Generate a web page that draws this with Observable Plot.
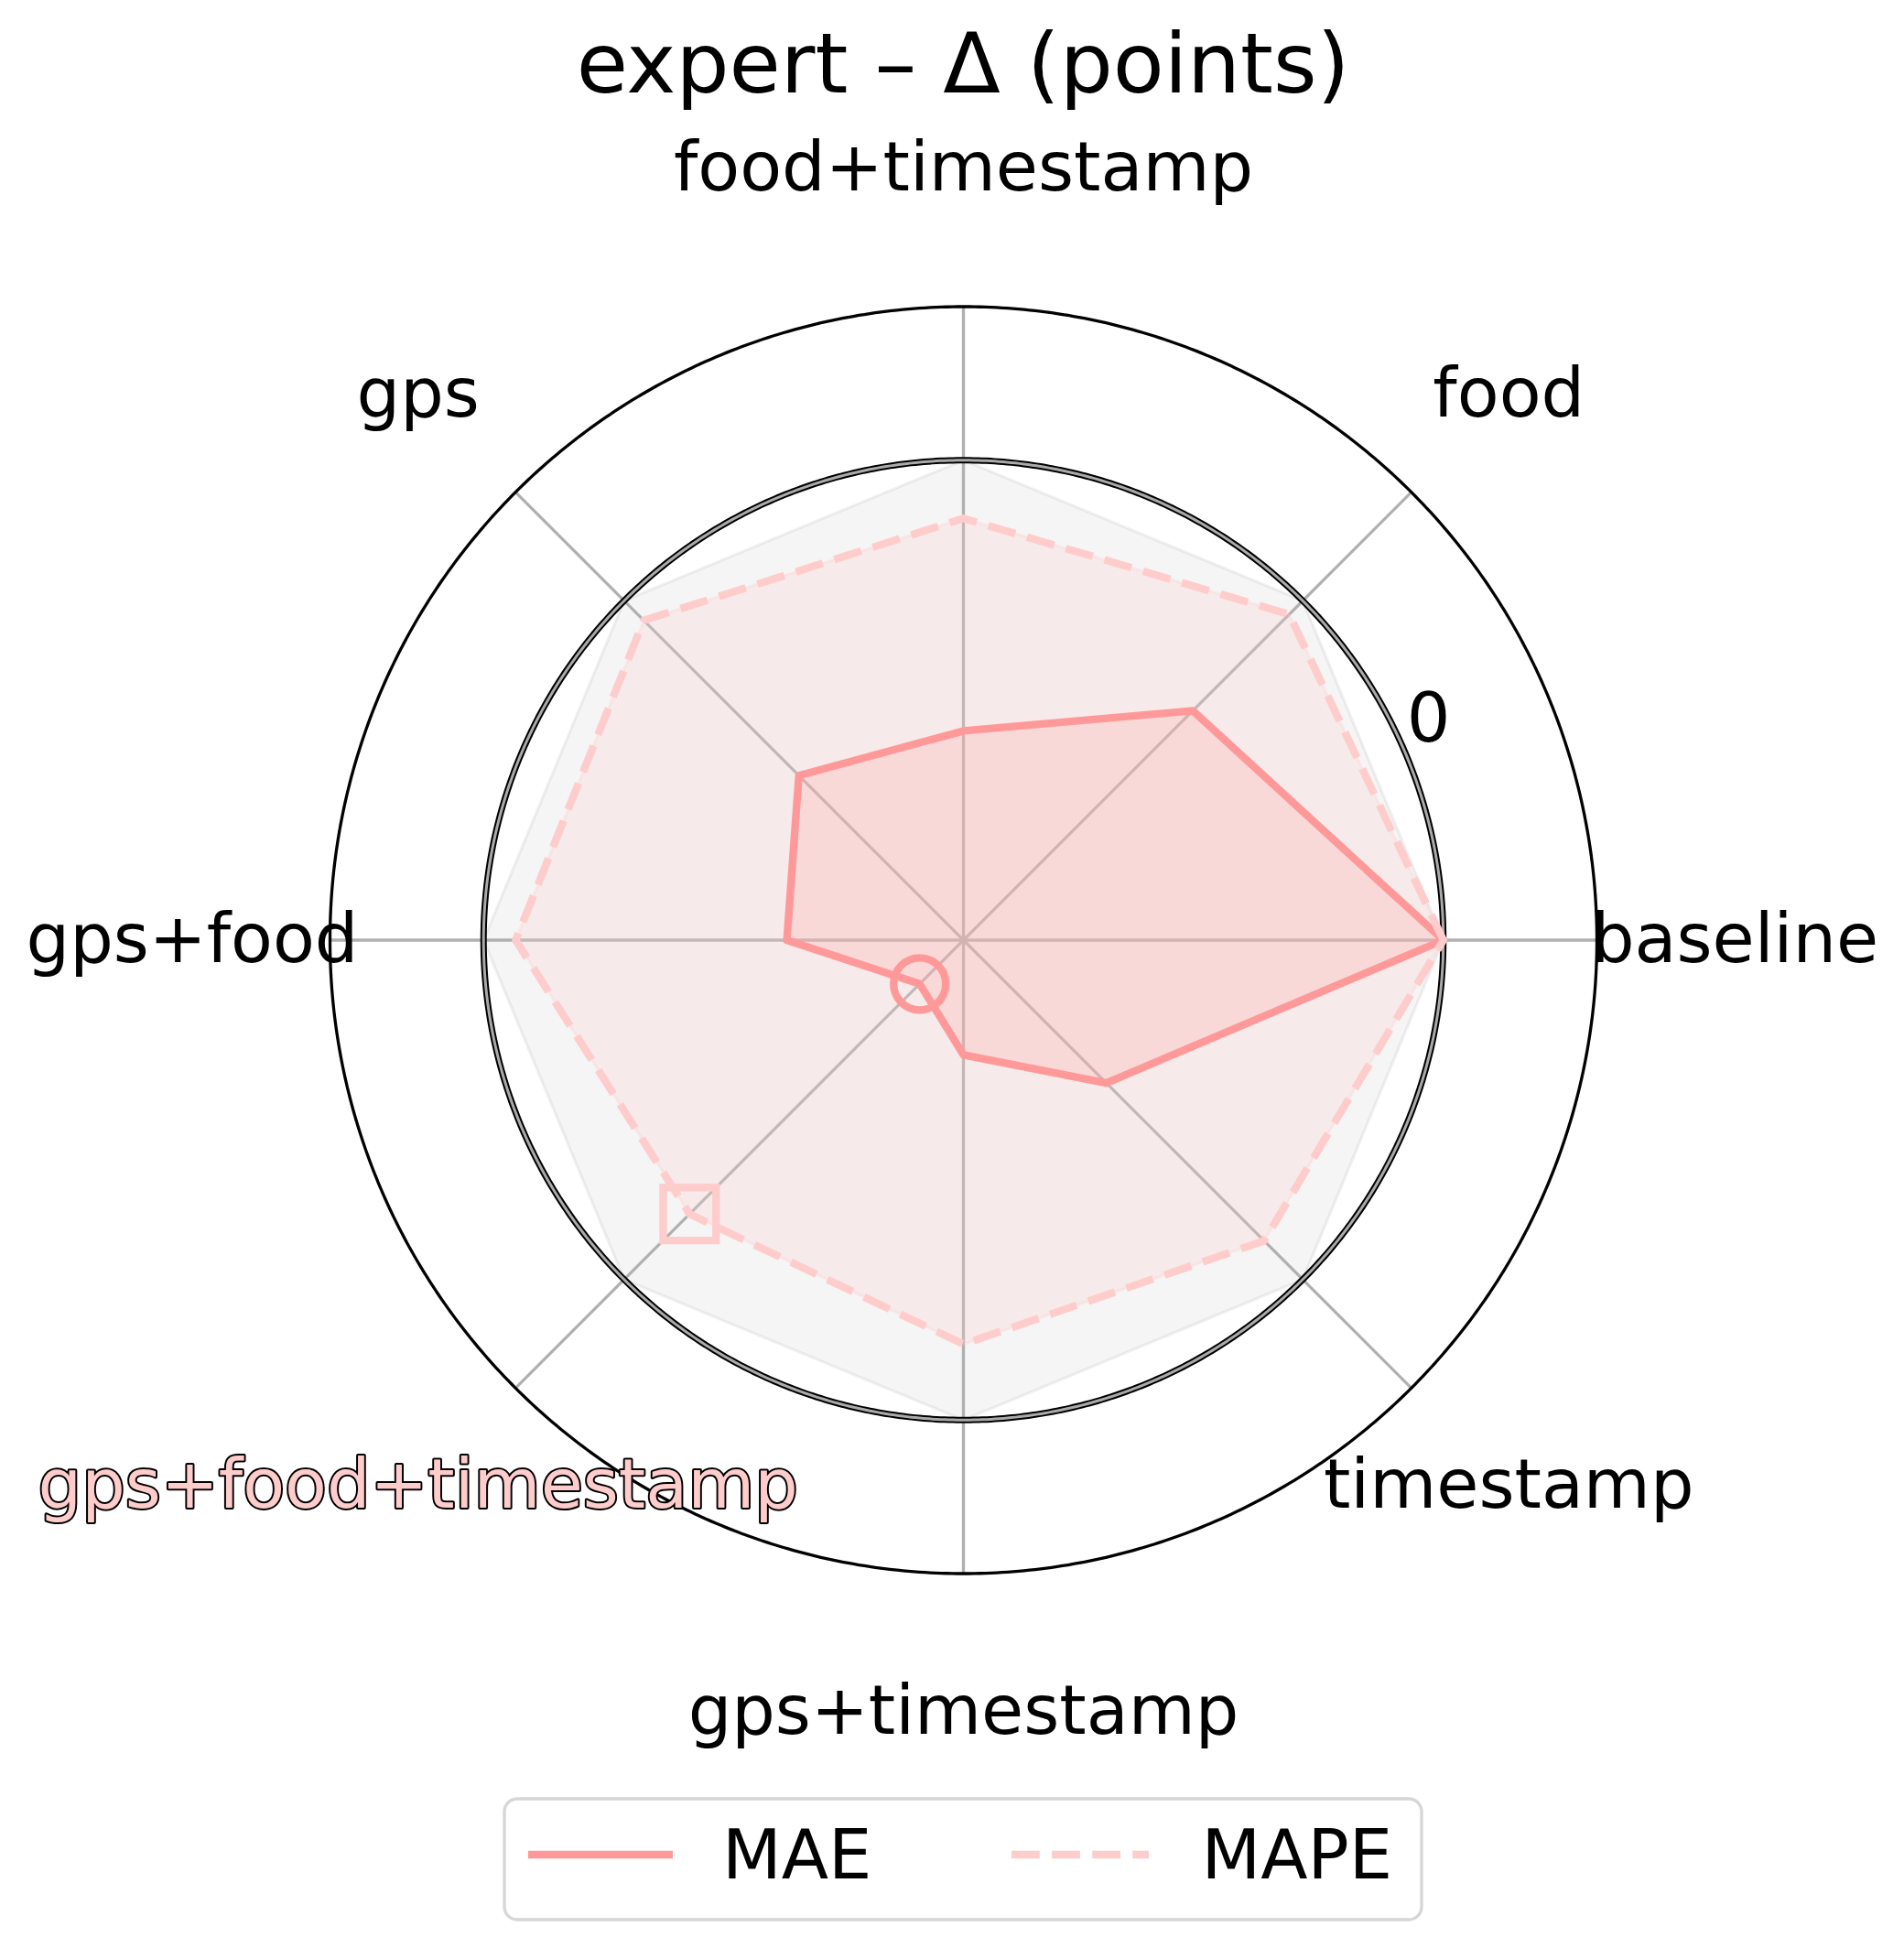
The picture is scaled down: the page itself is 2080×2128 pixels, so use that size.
<!DOCTYPE html>
<html>
<head>
<meta charset="utf-8">
<script src="https://cdn.jsdelivr.net/npm/d3@7"></script>
<script src="https://cdn.jsdelivr.net/npm/@observablehq/plot@0.6"></script>
<style>
  html, body { margin: 0; padding: 0; background: #ffffff; }
  body { width: 2080px; height: 2128px; overflow: hidden; font-family: "DejaVu Sans", sans-serif; }
  #title { position: relative; height: 130px; }
  #title span { position: absolute; left: 0; width: 2104px; top: 24.3px; text-align: center;
                font-size: 91.5px; line-height: 91.5px; white-space: nowrap; color: #000; }
  #chart svg { display: block; }
  #legend { height: 178px; }
  #legend svg { display: block; }
</style>
</head>
<body>
<div id="title"><span>expert – Δ (points)</span></div>
<div id="chart"></div>
<div id="legend"></div>
<script>
// ---------------- data ----------------
const categories = ["baseline", "food", "food+timestamp", "gps", "gps+food",
                    "gps+food+timestamp", "gps+timestamp", "timestamp"];
const maeValues  = [0, -3.24, -5.64, -5.15, -6.32, -8.71, -7.61, -5.79];
const mapeValues = [0, -0.40, -1.21, -0.58, -0.67, -1.93, -1.58, -1.14];
const seriesNames = ["MAE", "MAPE"];
const radialTicks = [0];
const radialDomain = [-10, 3.2];

// ---------------- setup ----------------
const MAE_COLOR = "#ff9999";
const MAPE_COLOR = "#ffcccc";
const n = categories.length;
const RHO = 1;                                   // outer ring, degrees from the pole
const rho = d3.scaleLinear().domain(radialDomain).range([0, RHO]);
const lon = (i) => (i * 360) / n;                // angle, counter-clockwise from the right
const lat = (v) => 90 - rho(v);
const LABEL_R = 1.2175 * RHO;
const TICK_ANGLE = 22.5;
const circle = (r) => d3.geoCircle().center([0, 90]).radius(r).precision(0.5)();

const rows = categories.map((category, i) => ({category, i, mae: maeValues[i], mape: mapeValues[i]}));
const bestMae = d3.minIndex(maeValues);
const bestMape = d3.minIndex(mapeValues);

const W = 2080, H = 1820;
const CX = 1052, CY = 896.5, R_OUT = 692, HALF = 890;

const chart = Plot.plot({
  width: W,
  height: H,
  marginLeft: CX - HALF,
  marginRight: W - CX - HALF,
  marginTop: CY - HALF,
  marginBottom: H - CY - HALF,
  projection: {
    type: "azimuthal-equidistant",
    rotate: [90, -90],
    domain: circle(RHO * HALF / R_OUT)
  },
  style: {fontFamily: "DejaVu Sans", background: "white", overflow: "visible", color: "black"},
  marks: [
    // zero reference polygon
    Plot.line(rows, {x: (d) => lon(d.i), y: () => lat(0), curve: "linear-closed",
      fill: "#000", fillOpacity: 0.04, stroke: "#000", strokeOpacity: 0.055, strokeWidth: 3.3}),
    // spokes
    Plot.link(rows, {x1: (d) => lon(d.i), y1: 90 - RHO, x2: (d) => lon(d.i), y2: 90,
      stroke: "#b0b0b0", strokeWidth: 3.3}),
    // MAE fill
    Plot.line(rows, {x: (d) => lon(d.i), y: (d) => lat(d.mae), curve: "linear-closed",
      fill: MAE_COLOR, fillOpacity: 0.25, stroke: MAE_COLOR, strokeOpacity: 0.25, strokeWidth: 3}),
    // MAPE fill
    Plot.line(rows, {x: (d) => lon(d.i), y: (d) => lat(d.mape), curve: "linear-closed",
      fill: MAPE_COLOR, fillOpacity: 0.25, stroke: MAPE_COLOR, strokeOpacity: 0.3, strokeWidth: 3}),
    // zero ring (gray line with black outline)
    Plot.geo(radialTicks, {geometry: (v) => circle(rho(v)), stroke: "black", strokeWidth: 7, fill: "none"}),
    Plot.geo(radialTicks, {geometry: (v) => circle(rho(v)), stroke: "#aaaaaa", strokeWidth: 3, fill: "none"}),
    // outer spine
    Plot.geo([radialDomain[1]], {geometry: (v) => circle(rho(v)), stroke: "black", strokeWidth: 3.3, fill: "none"}),
    // series lines
    Plot.line(rows, {x: (d) => lon(d.i), y: (d) => lat(d.mae), curve: "linear-closed",
      stroke: MAE_COLOR, strokeWidth: 8.33, strokeLinejoin: "round", strokeLinecap: "round"}),
    Plot.line(rows, {x: (d) => lon(d.i), y: (d) => lat(d.mape), curve: "linear-closed",
      stroke: MAPE_COLOR, strokeWidth: 8.33, strokeDasharray: "30.8,13.3",
      strokeLinejoin: "round", strokeLinecap: "butt"}),
    // best markers
    Plot.dot([bestMae], {x: (i) => lon(i), y: (i) => lat(maeValues[i]), r: 28.5,
      stroke: MAE_COLOR, strokeWidth: 8.33, fill: "none"}),
    Plot.dot([bestMape], {x: (i) => lon(i), y: (i) => lat(mapeValues[i]), r: 32.6, symbol: "square",
      stroke: MAPE_COLOR, strokeWidth: 8.33, fill: "none"}),
    // radial tick label
    Plot.text(radialTicks, {x: () => TICK_ANGLE, y: (v) => lat(v), text: (v) => String(v),
      fontSize: 75, textAnchor: "start", lineAnchor: "middle", dy: -40, fill: "black"}),
    // category labels
    Plot.text(rows, {filter: (d) => d.i !== bestMae, x: (d) => lon(d.i), y: () => 90 - LABEL_R,
      text: "category", fontSize: 75, textAnchor: "middle", lineAnchor: "middle", fill: "black"}),
    Plot.text(rows, {filter: (d) => d.i === bestMae, x: (d) => lon(d.i), y: () => 90 - LABEL_R,
      text: "category", fontSize: 75, textAnchor: "middle", lineAnchor: "middle",
      fill: MAPE_COLOR, stroke: "black", strokeWidth: 4, paintOrder: "stroke"})
  ]
});
document.getElementById("chart").appendChild(chart);

// ---------------- legend ----------------
const legendStyles = [
  {color: MAE_COLOR, dash: null, x1: 577, x2: 735, tx: 789},
  {color: MAPE_COLOR, dash: "30.8,13.3", x1: 1105, x2: 1255, tx: 1312.6}
];
const lsvg = d3.create("svg").attr("width", W).attr("height", 178)
  .style("font-family", "DejaVu Sans");
lsvg.append("rect").attr("x", 551).attr("y", 15).attr("width", 1002).attr("height", 132)
  .attr("rx", 14).attr("fill", "white").attr("stroke", "#d6d6d6").attr("stroke-width", 3.3);
seriesNames.forEach((name, k) => {
  const s = legendStyles[k];
  lsvg.append("line").attr("x1", s.x1).attr("x2", s.x2).attr("y1", 76).attr("y2", 76)
    .attr("stroke", s.color).attr("stroke-width", 8.33)
    .attr("stroke-dasharray", s.dash).attr("stroke-linecap", "butt");
  lsvg.append("text").attr("x", s.tx).attr("y", 101.7).attr("font-size", 75)
    .attr("fill", "black").text(name);
});
document.getElementById("legend").appendChild(lsvg.node());
</script>
</body>
</html>
